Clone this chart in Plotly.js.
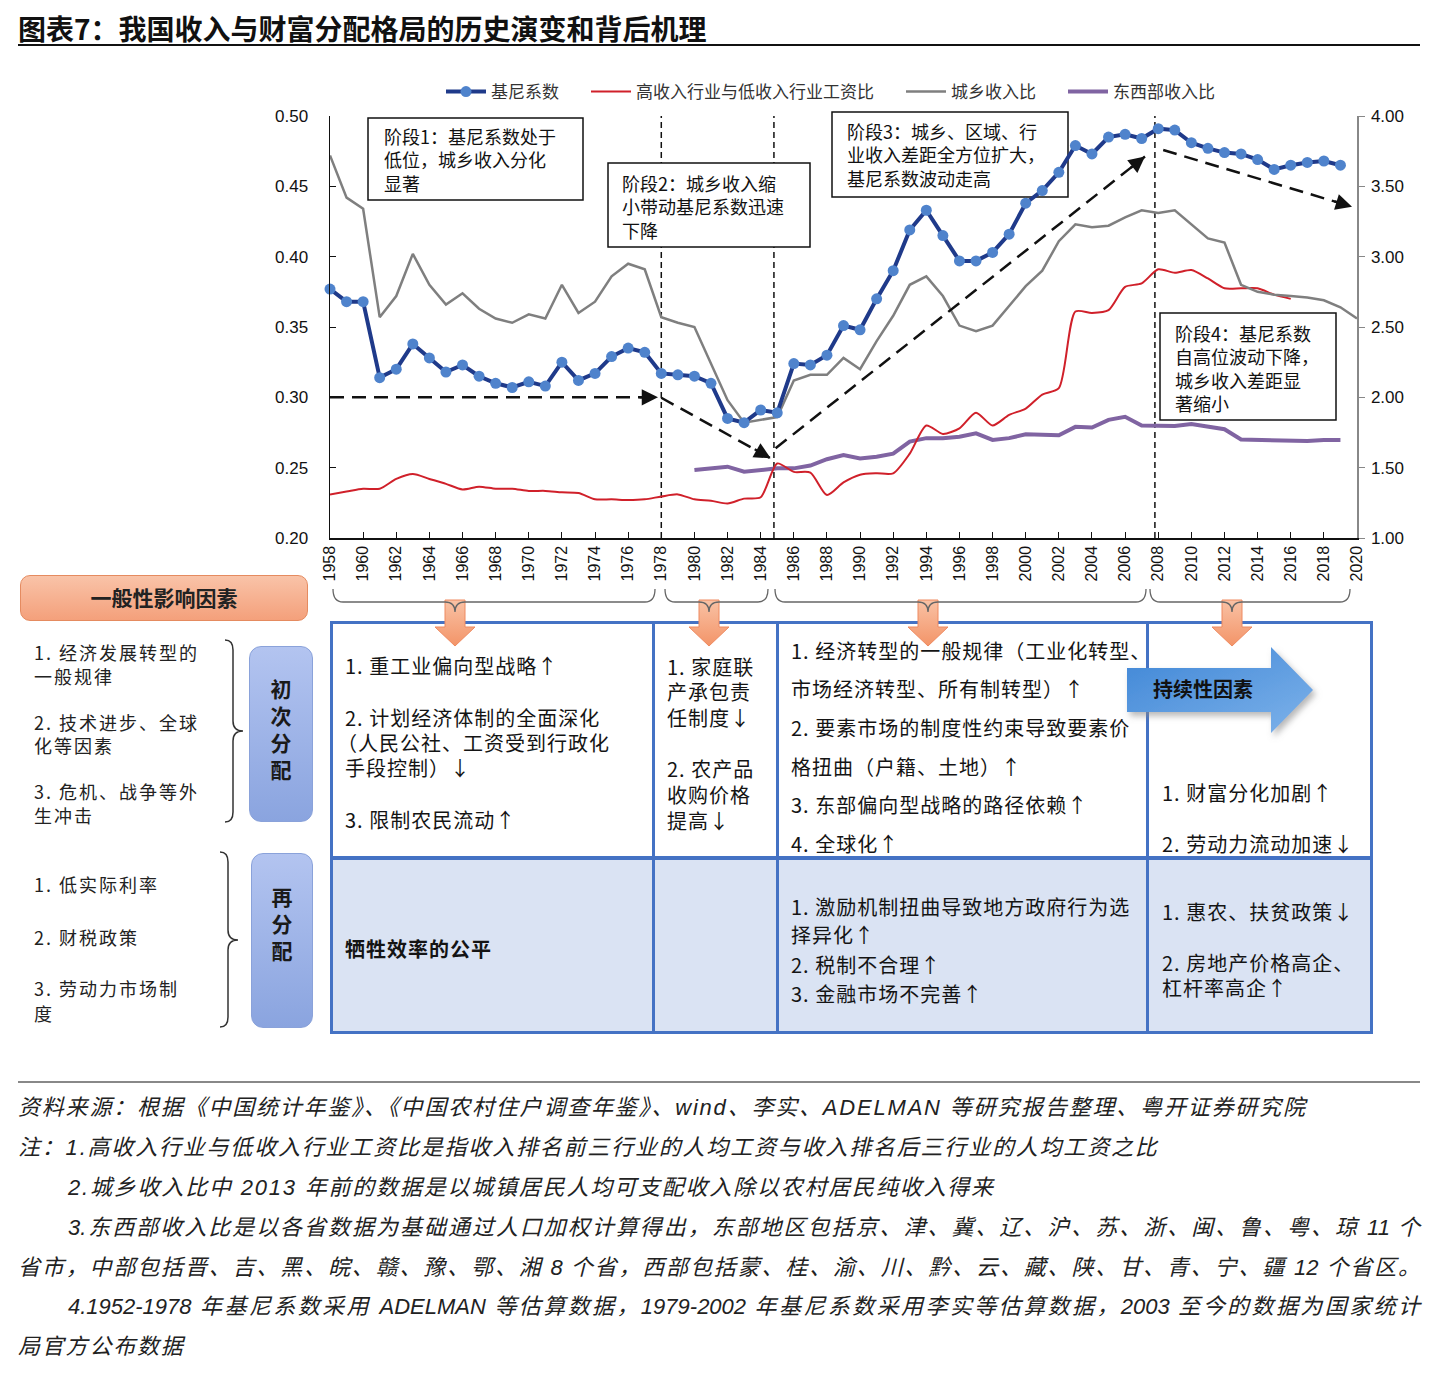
<!DOCTYPE html>
<html>
<head>
<meta charset="utf-8">
<script src="https://cdn.plot.ly/plotly-3.0.1.min.js"></script>
<style>
body { margin: 0; background: #fff; width: 1440px; height: 1383px; position: relative; overflow: hidden;
       font-family: "Noto Sans CJK SC", sans-serif; color: #111; }
.abs { position: absolute; white-space: nowrap; }
#chart { position: absolute; left: 0; top: 0; width: 1440px; height: 620px; z-index: 2; }
#overlay { position: absolute; left: 0; top: 0; z-index: 3; pointer-events: none; }
#title { left: 18px; top: 10px; font-size: 28px; font-weight: bold; line-height: 36px; color: #111; }
#titleRule { position: absolute; left: 18px; top: 44px; width: 1402px; height: 2px; background: #111; }
#factorBox { position: absolute; left: 20px; top: 575px; width: 288px; height: 46px; box-sizing: border-box;
             border: 1.5px solid #e58b60; border-radius: 10px; background: linear-gradient(#f9c3a8, #f4a07b);
             font-size: 21px; font-weight: bold; line-height: 43px; text-align: center; color: #222; }
.vbox { position: absolute; box-sizing: border-box; border: 1.5px solid #8aa2da; border-radius: 12px;
        background: linear-gradient(#b3c4f0, #8aa4df); display: flex; flex-direction: column;
        align-items: center; justify-content: center; font-size: 21px; font-weight: bold; line-height: 27px; color: #1a1a1a; }
#tbl { position: absolute; left: 330px; top: 621px; width: 1043px; height: 413px; box-sizing: border-box;
       border: 3px solid #4472c4; z-index: 1; }
.vline { position: absolute; top: 621px; height: 413px; width: 2.5px; background: #4472c4; z-index: 1; }
#row2 { position: absolute; left: 331px; top: 858px; width: 1041px; height: 175px; background: #dae3f3; z-index: 0; }
#rowRule { position: absolute; left: 330px; top: 856px; width: 1043px; height: 4px; background: #4472c4; z-index: 1; }
.cell { font-size: 20px; letter-spacing: 1px; color: #141414; z-index: 2; }
.side { font-size: 18px; letter-spacing: 2px; color: #222; }
#noteRule { position: absolute; left: 18px; top: 1081px; width: 1402px; height: 1.5px; background: #888; }
.note { font-family: "Liberation Sans", "Noto Sans CJK SC", sans-serif; font-style: italic; font-size: 22px;
        letter-spacing: 1.8px; color: #222; }
.just { text-align: justify; text-align-last: justify; }
</style>
</head>
<body>
<div id="title" class="abs">图表7：我国收入与财富分配格局的历史演变和背后机理</div>
<div id="titleRule"></div>
<div id="chart"></div>

<div id="factorBox">一般性影响因素</div>
<div class="vbox" style="left:249px;top:646px;width:64px;height:176px;padding-bottom:10px;">初<br>次<br>分<br>配</div>
<div class="vbox" style="left:251px;top:853px;width:62px;height:175px;padding-bottom:35px;">再<br>分<br>配</div>

<div id="row2"></div>
<div id="tbl"></div>
<div class="vline" style="left:652px"></div>
<div class="vline" style="left:776px"></div>
<div class="vline" style="left:1146px"></div>
<div id="rowRule"></div>
<div id="noteRule"></div>

<svg id="overlay" width="1440" height="1383">
  <defs>
    <linearGradient id="salmon" x1="0" y1="0" x2="0" y2="1">
      <stop offset="0" stop-color="#f9c2a5"/>
      <stop offset="1" stop-color="#f39468"/>
    </linearGradient>
    <linearGradient id="blueArr" x1="0" y1="0" x2="1" y2="1">
      <stop offset="0" stop-color="#3f86d6"/>
      <stop offset="1" stop-color="#7db2ea"/>
    </linearGradient>
    <filter id="shadow" x="-10%" y="-20%" width="130%" height="150%">
      <feDropShadow dx="3" dy="4" stdDeviation="3" flood-color="#888" flood-opacity="0.6"/>
    </filter>
  </defs>
  <g id="downArrows"></g>
  <g id="braces" fill="none" stroke="#666" stroke-width="1.3"></g>
  <g fill="none" stroke="#333" stroke-width="1.5">
    <path d="M225,640 Q233,640 233,650 L233,721 Q233,731 243,731 Q233,731 233,741 L233,812 Q233,822 225,822"/>
    <path d="M220,852 Q228,852 228,862 L228,930 Q228,940 238,940 Q228,940 228,950 L228,1017 Q228,1027 220,1027"/>
  </g>
  <polygon points="1127,668 1271,668 1271,647 1313,690 1271,733 1271,712 1127,712" fill="url(#blueArr)" filter="url(#shadow)"/>
  <text x="1153" y="697" font-size="20" font-weight="bold" fill="#111" font-family="Noto Sans CJK SC">持续性因素</text>
</svg>

<script>
// ---- chart data ----
const years = [];
for (let y = 1958; y <= 2020; y++) years.push(y);

const gini = [0.377, 0.368, 0.368, 0.314, 0.320, 0.338, 0.328, 0.318, 0.323, 0.315,
              0.310, 0.307, 0.311, 0.308, 0.325, 0.312, 0.317, 0.329, 0.335, 0.332,
              0.317, 0.316, 0.315, 0.310, 0.285, 0.282, 0.291, 0.289, 0.324, 0.323,
              0.330, 0.351, 0.348, 0.370, 0.390, 0.419, 0.433, 0.415, 0.397, 0.397,
              0.403, 0.416, 0.438, 0.447, 0.460, 0.479, 0.473, 0.485, 0.487, 0.484,
              0.491, 0.490, 0.481, 0.477, 0.474, 0.473, 0.469, 0.462, 0.465, 0.467,
              0.468, 0.465, null];

const wageRatio = [1.31, 1.33, 1.35, 1.35, 1.42, 1.455, 1.42, 1.385, 1.345, 1.365,
                   1.35, 1.35, 1.335, 1.335, 1.325, 1.32, 1.275, 1.275, 1.27, 1.275,
                   1.295, 1.31, 1.275, 1.265, 1.245, 1.28, 1.29, 1.53, 1.47, 1.465,
                   1.305, 1.395, 1.45, 1.46, 1.46, 1.60, 1.80, 1.74, 1.78, 1.89,
                   1.80, 1.875, 1.92, 2.02, 2.065, 2.61, 2.60, 2.62, 2.785, 2.81,
                   2.91, 2.885, 2.905, 2.845, 2.775, 2.775, 2.775, 2.73, 2.70, null,
                   null, null, null];

const urbanRural = [3.72, 3.42, 3.34, 2.57, 2.72, 3.02, 2.80, 2.66, 2.74, 2.63,
                    2.56, 2.53, 2.59, 2.56, 2.80, 2.60, 2.68, 2.86, 2.95, 2.91,
                    2.57, 2.53, 2.50, 2.24, 1.98, 1.82, 1.84, 1.86, 2.12, 2.16,
                    2.16, 2.28, 2.20, 2.40, 2.58, 2.80, 2.86, 2.72, 2.51, 2.47,
                    2.51, 2.65, 2.79, 2.90, 3.11, 3.23, 3.21, 3.22, 3.28, 3.33,
                    3.31, 3.33, 3.23, 3.13, 3.10, 2.80, 2.75, 2.73, 2.72, 2.71,
                    2.69, 2.64, 2.56];

const eastWest = [null, null, null, null, null, null, null, null, null, null,
                  null, null, null, null, null, null, null, null, null, null,
                  null, null, 1.483, 1.495, 1.507, 1.471, 1.483, 1.495, 1.495, 1.515,
                  1.56, 1.59, 1.566, 1.578, 1.60, 1.685, 1.71, 1.71, 1.72, 1.744,
                  1.697, 1.71, 1.737, 1.73, 1.73, 1.79, 1.785, 1.84, 1.862, 1.80,
                  1.796, 1.796, 1.81, 1.79, 1.773, 1.70, 1.697, 1.69, 1.69, 1.69,
                  1.697, 1.697, null];

const seriesNames = ['基尼系数', '高收入行业与低收入行业工资比', '城乡收入比', '东西部收入比'];
const tickYears = years.filter(y => y % 2 === 0);

const stageNotes = [
  '阶段1：基尼系数处于<br>低位，城乡收入分化<br>显著',
  '阶段2：城乡收入缩<br>小带动基尼系数迅速<br>下降',
  '阶段3：城乡、区域、行<br>业收入差距全方位扩大，<br>基尼系数波动走高',
  '阶段4：基尼系数<br>自高位波动下降，<br>城乡收入差距显<br>著缩小'
];
const stageBreaks = [1978, 1984.8, 2007.8];

// ---- plot ----
const PL = 330, PW = 1027, PB = 538, PH = 422;   // plot area in page pixels
const px = v => (v - PL) / PW;
const py = v => (PB - v) / PH;

const tickFont = { family: 'Liberation Sans, Arial, sans-serif', size: 17, color: '#111' };
const legendFont = { family: 'Noto Sans CJK SC, sans-serif', size: 17, color: '#333' };
const noteSize = 18;

const traces = [
  { x: years, y: eastWest, name: seriesNames[3], yaxis: 'y', mode: 'lines', legend: 'legend4',
    line: { color: '#8064a2', width: 4 } },
  { x: years, y: wageRatio, name: seriesNames[1], yaxis: 'y', mode: 'lines', legend: 'legend2',
    line: { color: '#d0202a', width: 2, shape: 'spline', smoothing: 0.7 } },
  { x: years, y: urbanRural, name: seriesNames[2], yaxis: 'y', mode: 'lines', legend: 'legend3',
    line: { color: '#7f7f7f', width: 2.5 } },
  { x: years, y: gini, name: seriesNames[0], yaxis: 'y2', mode: 'lines+markers', legend: 'legend',
    cliponaxis: false,
    line: { color: '#1f3a8a', width: 4 }, marker: { color: '#4f83cc', size: 11 } }
];

function legendAt(p) {
  return { x: px(p), y: py(92), xanchor: 'left', yanchor: 'middle', orientation: 'h',
           font: legendFont, bgcolor: 'rgba(0,0,0,0)', itemwidth: 40 };
}

const shapes = stageBreaks.map(b => ({
  type: 'line', xref: 'x', yref: 'paper', x0: b, x1: b, y0: 0, y1: 1, layer: 'below',
  line: { color: '#111', width: 1.5, dash: '6px,4px' }
}));

// stage boxes: [left, top, right, bottom, textLeft, firstLineCenter] in page pixels
const stageBoxes = [
  [368, 118, 583, 200, 383, 136],
  [608, 163, 810, 247, 621, 183],
  [832, 112, 1068, 197, 846, 131],
  [1160, 313, 1336, 420, 1174, 333]
];
const annotations = [];
stageBoxes.forEach((b, i) => {
  shapes.push({ type: 'rect', xref: 'paper', yref: 'paper', layer: 'below',
                x0: px(b[0]), x1: px(b[2]), y0: py(b[3]), y1: py(b[1]),
                fillcolor: '#fff', line: { color: '#111', width: 1.5 } });
  annotations.push({
    xref: 'paper', yref: 'paper', x: px(b[4]), y: py(b[5] - 0.79 * noteSize),
    xanchor: 'left', yanchor: 'top', align: 'left', showarrow: false, text: stageNotes[i],
    font: { family: 'Noto Sans CJK SC, sans-serif', size: noteSize, color: '#111' }, borderpad: 0
  });
});

// dashed trend arrows: [x0, y0, x1, y1, ax, ay] in years / gini units, head offset in px
const trendArrows = [
  [1958, 0.300, 1977.8, 0.300, -20, 0],
  [1978, 0.2997, 1984.6, 0.2567, -17.4, -9.8],
  [1984.9, 0.2638, 2007.2, 0.4712, -15.6, 12.5],
  [2008.3, 0.4758, 2019.7, 0.4355, -19.1, -5.8]
];
trendArrows.forEach(a => {
  shapes.push({ type: 'line', xref: 'x', yref: 'y2', x0: a[0], y0: a[1], x1: a[2], y1: a[3],
                line: { color: '#111', width: 2.5, dash: '14px,8px' } });
  annotations.push({ xref: 'x', yref: 'y2', x: a[2], y: a[3], ax: a[4], ay: a[5], text: '',
                     showarrow: true, arrowhead: 2, arrowsize: 1.3, arrowwidth: 2.5, arrowcolor: '#111', standoff: 0 });
});

const layout = {
  width: 1440, height: 620,
  margin: { l: PL, r: 1440 - PL - PW, t: PB - PH, b: 620 - PB, pad: 0 },
  paper_bgcolor: 'rgba(0,0,0,0)', plot_bgcolor: 'rgba(0,0,0,0)',
  showlegend: true,
  legend: legendAt(441), legend2: legendAt(586), legend3: legendAt(901), legend4: legendAt(1063),
  xaxis: {
    range: [1958, 2020], tickvals: tickYears, ticktext: tickYears.map(String), tickangle: -90,
    ticks: 'inside', ticklen: 6, tickcolor: '#111', showline: true, linecolor: '#111', linewidth: 1.5,
    showgrid: false, zeroline: false, tickfont: { family: tickFont.family, size: 16, color: '#111' }
  },
  yaxis: {
    side: 'right', range: [1, 4], dtick: 0.5, tickformat: '.2f', ticks: 'outside', ticklen: 6,
    tickcolor: '#888', showline: true, linecolor: '#888', linewidth: 1.5, showgrid: false, zeroline: false,
    tickfont: tickFont, ticklabelstandoff: 3
  },
  yaxis2: {
    side: 'left', overlaying: 'y', range: [0.2, 0.5], dtick: 0.05, tickformat: '.2f', ticks: 'inside',
    ticklen: 6, tickcolor: '#111', showline: true, linecolor: '#111', linewidth: 1.5, showgrid: false,
    zeroline: false, tickfont: tickFont, ticklabelstandoff: 17
  },
  shapes: shapes,
  annotations: annotations
};

Plotly.newPlot('chart', traces, layout, { staticPlot: true, displayModeBar: false });

// ---- diagram decoration below the axis ----
const svgNS = 'http://www.w3.org/2000/svg';
const arrowCenters = [455, 709, 928, 1232];
const braceSpans = [[333, 655], [665, 768], [775, 1146], [1150, 1350]];
const downG = document.getElementById('downArrows');
const braceG = document.getElementById('braces');
arrowCenters.forEach((c, i) => {
  const p = document.createElementNS(svgNS, 'polygon');
  p.setAttribute('points', [[c - 10, 600], [c + 10, 600], [c + 10, 627], [c + 20, 627], [c, 646], [c - 20, 627], [c - 10, 627]].join(' '));
  p.setAttribute('fill', 'url(#salmon)');
  p.setAttribute('stroke', '#ee8a60');
  p.setAttribute('stroke-width', '1');
  downG.appendChild(p);
  const s = braceSpans[i];
  const b = document.createElementNS(svgNS, 'path');
  b.setAttribute('d', `M${s[0]},589 Q${s[0]},602 ${s[0] + 10},602 L${c - 10},602 Q${c},602 ${c},612 ` +
                      `Q${c},602 ${c + 10},602 L${s[1] - 10},602 Q${s[1]},602 ${s[1]},589`);
  braceG.appendChild(b);
});

// ---- table and side texts ----
function addText(cls, x, yc, text, lh, extra) {
  const d = document.createElement('div');
  d.className = 'abs ' + cls;
  d.style.left = x + 'px';
  d.style.top = (yc - lh / 2) + 'px';
  d.style.lineHeight = lh + 'px';
  d.textContent = text;
  if (extra) Object.assign(d.style, extra);
  document.body.appendChild(d);
  return d;
}

const sideLines = [
  [34, 652, '1. 经济发展转型的'], [34, 676, '一般规律'],
  [34, 722, '2. 技术进步、全球'], [34, 745, '化等因素'],
  [34, 791, '3. 危机、战争等外'], [34, 815, '生冲击'],
  [34, 884, '1. 低实际利率'], [34, 937, '2. 财税政策'],
  [34, 988, '3. 劳动力市场制'], [34, 1013, '度']
];
sideLines.forEach(l => addText('side', l[0], l[1], l[2], 20));

const cellLines = [
  [345, 665, '1. 重工业偏向型战略↑'],
  [345, 717, '2. 计划经济体制的全面深化'],
  [337, 742, '（人民公社、工资受到行政化'],
  [345, 767, '手段控制）↓'],
  [345, 819, '3. 限制农民流动↑'],
  [667, 666, '1. 家庭联'], [667, 691, '产承包责'], [667, 717, '任制度↓'],
  [667, 768, '2. 农产品'], [667, 794, '收购价格'], [667, 820, '提高↓'],
  [791, 650, '1. 经济转型的一般规律（工业化转型、'],
  [791, 688, '市场经济转型、所有制转型）↑'],
  [791, 727, '2. 要素市场的制度性约束导致要素价'],
  [791, 766, '格扭曲（户籍、土地）↑'],
  [791, 804, '3. 东部偏向型战略的路径依赖↑'],
  [791, 843, '4. 全球化↑'],
  [1162, 792, '1. 财富分化加剧↑'],
  [1162, 843, '2. 劳动力流动加速↓'],
  [345, 948, '牺牲效率的公平', true],
  [791, 906, '1. 激励机制扭曲导致地方政府行为选'],
  [791, 934, '择异化↑'],
  [791, 964, '2. 税制不合理↑'],
  [791, 993, '3. 金融市场不完善↑'],
  [1162, 911, '1. 惠农、扶贫政策↓'],
  [1162, 962, '2. 房地产价格高企、'],
  [1162, 987, '杠杆率高企↑']
];
cellLines.forEach(l => addText('cell', l[0], l[1], l[2], 21, l[3] ? { fontWeight: 'bold' } : null));

// ---- notes ----
const noteLines = [
  [18, 1108, '资料来源：根据《中国统计年鉴》、《中国农村住户调查年鉴》、wind、李实、ADELMAN 等研究报告整理、粤开证券研究院', false],
  [18, 1148, '注：1.高收入行业与低收入行业工资比是指收入排名前三行业的人均工资与收入排名后三行业的人均工资之比', false],
  [68, 1188, '2.城乡收入比中 2013 年前的数据是以城镇居民人均可支配收入除以农村居民纯收入得来', false],
  [68, 1228, '3.东西部收入比是以各省数据为基础通过人口加权计算得出，东部地区包括京、津、冀、辽、沪、苏、浙、闽、鲁、粤、琼 11 个', true],
  [18, 1268, '省市，中部包括晋、吉、黑、皖、赣、豫、鄂、湘 8 个省，西部包括蒙、桂、渝、川、黔、云、藏、陕、甘、青、宁、疆 12 个省区。', true],
  [68, 1307, '4.1952-1978 年基尼系数采用 ADELMAN 等估算数据，1979-2002 年基尼系数采用李实等估算数据，2003 至今的数据为国家统计', true],
  [18, 1347, '局官方公布数据', false]
];
noteLines.forEach(l => {
  const d = addText('note' + (l[3] ? ' just' : ''), l[0], l[1], l[2], 32);
  if (l[3]) { d.style.width = (1420 - l[0]) + 'px'; d.style.whiteSpace = 'normal'; d.style.letterSpacing = '0px'; }
});
</script>
</body>
</html>
